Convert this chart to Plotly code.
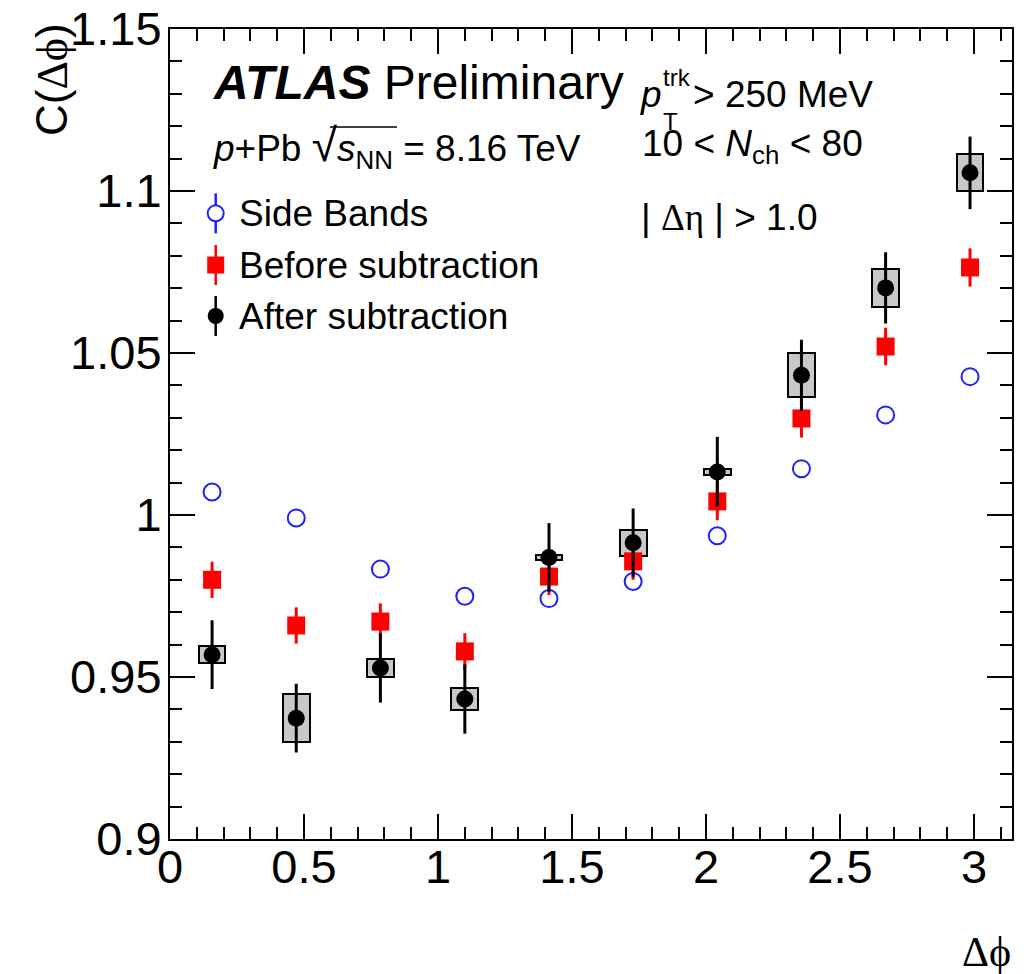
import math
import plotly.graph_objects as go

# ---------------- data ----------------
dphi = [0.157, 0.471, 0.785, 1.100, 1.414, 1.728, 2.042, 2.356, 2.670, 2.985]
side_bands = [1.0071, 0.9991, 0.9833, 0.9749, 0.9742, 0.9795, 0.9936, 1.0143, 1.0309, 1.0427]
before_sub = [0.9800, 0.9659, 0.9671, 0.9579, 0.9810, 0.9857, 1.0042, 1.0298, 1.0520, 1.0764]
before_err = [0.0056, 0.0056, 0.0056, 0.0056, 0.0057, 0.0057, 0.0058, 0.0059, 0.0058, 0.0059]
after_sub = [0.9569, 0.9373, 0.9528, 0.9432, 0.9869, 0.9914, 1.0133, 1.0431, 1.0701, 1.1056]
after_stat = [0.0106, 0.0106, 0.0107, 0.0107, 0.0106, 0.0106, 0.0108, 0.0110, 0.0110, 0.0112]
after_sys = [0.0026, 0.0075, 0.0027, 0.0034, 0.0008, 0.0039, 0.0010, 0.0068, 0.0059, 0.0057]

x_tickvals = [0, 0.5, 1, 1.5, 2, 2.5, 3]
x_ticktext = ["0", "0.5", "1", "1.5", "2", "2.5", "3"]
y_tickvals = [0.9, 0.95, 1.0, 1.05, 1.1, 1.15]
y_ticktext = ["0.9", "0.95", "1", "1.05", "1.1", "1.15"]

legend_names = ["Side Bands", "Before subtraction", "After subtraction"]

# ---------------- layout geometry ----------------
W, H = 1028, 974
ML, MR, MT, MB = 170, 16, 29, 135
PW, PH = W - ML - MR, H - MT - MB


def px(x):
    return (x - ML) / PW


def py(y):
    return (H - MB - y) / PH


SANS = "Liberation Sans, Arial, Helvetica, sans-serif"
SERIF = "'Liberation Serif','DejaVu Serif',serif"
BLUE = "#1f1fff"
RED = "#ff0000"

fig = go.Figure()

# systematic boxes
fig.add_trace(go.Bar(
    x=dphi,
    y=[2 * s for s in after_sys],
    base=[v - s for v, s in zip(after_sub, after_sys)],
    width=0.1,
    marker=dict(color="#c8c8c8", line=dict(color="black", width=2)),
    showlegend=False, hoverinfo="skip",
))

fig.add_trace(go.Scatter(
    x=dphi, y=side_bands, mode="markers",
    marker=dict(symbol="circle-open", size=17, color=BLUE, line=dict(width=2, color=BLUE)),
    showlegend=False, name=legend_names[0],
))
fig.add_trace(go.Scatter(
    x=dphi, y=before_sub, mode="markers",
    marker=dict(symbol="square", size=18, color=RED),
    error_y=dict(type="data", array=before_err, thickness=3, width=0, color=RED),
    showlegend=False, name=legend_names[1],
))
fig.add_trace(go.Scatter(
    x=dphi, y=after_sub, mode="markers",
    marker=dict(symbol="circle", size=17, color="black"),
    error_y=dict(type="data", array=after_stat, thickness=3, width=0, color="black"),
    showlegend=False, name=legend_names[2],
))

# legend glyphs on an overlay axis in plot-fraction units
leg_x = px(215.7)
leg_y = [py(213.3), py(265), py(316)]
leg_e = 20 / PH
fig.add_trace(go.Scatter(
    x=[leg_x], y=[leg_y[0]], xaxis="x2", yaxis="y2", mode="markers",
    marker=dict(symbol="circle", size=16, color="white", line=dict(width=2, color=BLUE)),
    error_y=dict(type="data", array=[leg_e], thickness=2.5, width=0, color=BLUE),
    showlegend=False, hoverinfo="skip",
))
fig.add_trace(go.Scatter(
    x=[leg_x], y=[leg_y[1]], xaxis="x2", yaxis="y2", mode="markers",
    marker=dict(symbol="square", size=17, color=RED),
    error_y=dict(type="data", array=[leg_e], thickness=2.5, width=0, color=RED),
    showlegend=False, hoverinfo="skip",
))
fig.add_trace(go.Scatter(
    x=[leg_x], y=[leg_y[2]], xaxis="x2", yaxis="y2", mode="markers",
    marker=dict(symbol="circle", size=16, color="black"),
    error_y=dict(type="data", array=[leg_e], thickness=2.5, width=0, color="black"),
    showlegend=False, hoverinfo="skip",
))

axis_common = dict(
    showline=True, linecolor="black", linewidth=2, mirror="ticks",
    ticks="inside", ticklen=25, tickwidth=1.5, tickcolor="black",
    showgrid=False, zeroline=False, automargin=False,
    tickfont=dict(family=SANS, size=47, color="black"),
    tickmode="array",
)

annotations = []


def txt(text, x, y, size, xanchor="left", yanchor="middle", family=SANS, angle=0):
    annotations.append(dict(
        text=text, x=px(x), y=py(y), xref="paper", yref="paper",
        xanchor=xanchor, yanchor=yanchor, showarrow=False, textangle=angle,
        font=dict(family=family, size=size, color="black"),
    ))


txt("<b><i>ATLAS</i></b> Preliminary", 211, 83, 48)
txt("<i>p</i>+Pb <span style=\"font-size:46px\">√</span><i>s</i><sub>NN</sub> = 8.16 TeV", 211, 146, 37)
for name, yy in zip(legend_names, [213.3, 265, 316]):
    txt(name, 237, yy, 37)

txt("<i>p</i>", 638, 94, 37)
txt("trk", 661, 78, 24)
txt("T", 661, 121, 24)
txt("> 250 MeV", 691, 94, 37)
txt("10 < <i>N</i><sub>ch</sub> < 80", 640, 146, 37)
txt("| <span style=\"font-family:" + SERIF + "\">Δη</span> | > 1.0", 639, 218, 37)

# axis titles
txt("C(<span style=\"font-family:" + SERIF + "\">Δϕ</span>)", 52, 80, 44, xanchor="center", angle=-90)
txt("Δϕ", 1013, 952, 42, xanchor="right", family=SERIF)

# overline of the square root
shapes = [dict(type="line", xref="paper", yref="paper",
               x0=px(330), x1=px(397), y0=py(127), y1=py(127),
               line=dict(color="black", width=1.5))]

fig.update_layout(
    width=W, height=H,
    margin=dict(l=ML, r=MR, t=MT, b=MB, pad=0, autoexpand=False),
    paper_bgcolor="white", plot_bgcolor="white",
    showlegend=False,
    xaxis=dict(
        range=[0, math.pi], tickvals=x_tickvals, ticktext=x_ticktext,
        ticklabelstandoff=-14,
        minor=dict(ticks="inside", ticklen=12, tickwidth=1.5, tickcolor="black",
                   tickmode="linear", tick0=0, dtick=0.1, showgrid=False),
        **axis_common,
    ),
    yaxis=dict(
        range=[0.9, 1.15], tickvals=y_tickvals, ticktext=y_ticktext,
        ticklabelstandoff=-3,
        minor=dict(ticks="inside", ticklen=12, tickwidth=1.5, tickcolor="black",
                   tickmode="linear", tick0=0.9, dtick=0.01, showgrid=False),
        **axis_common,
    ),
    xaxis2=dict(overlaying="x", range=[0, 1], visible=False, fixedrange=True),
    yaxis2=dict(overlaying="y", range=[0, 1], visible=False, fixedrange=True),
    annotations=annotations,
    shapes=shapes,
    bargap=0,
)

fig.write_html("out.html")
